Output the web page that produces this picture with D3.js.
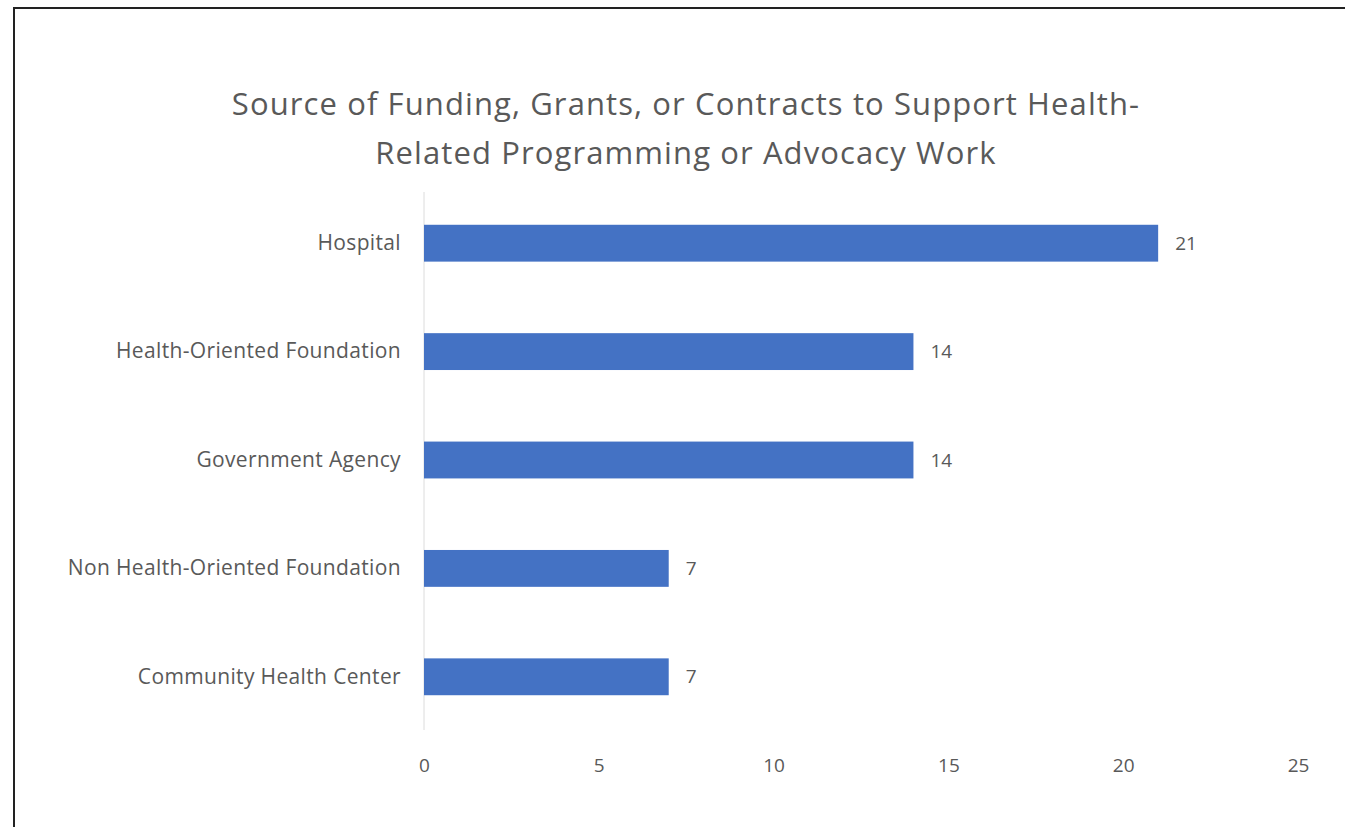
<!DOCTYPE html>
<html>
<head>
<meta charset="utf-8">
<script src="https://cdn.jsdelivr.net/npm/d3@7"></script>
<style>
  html, body { margin: 0; padding: 0; background: #fff; }
  svg { display: block; }
  text { font-family: "Open Sans", "Noto Sans", sans-serif; fill: #595959; }
</style>
</head>
<body>
<svg id="chart" width="1345" height="827"></svg>
<script>
// Funding sources and the number of organisations reporting each
const categories = [
  "Hospital",
  "Health-Oriented Foundation",
  "Government Agency",
  "Non Health-Oriented Foundation",
  "Community Health Center"
];
const counts = [21, 14, 14, 7, 7];
const xTicks = [0, 5, 10, 15, 20, 25];
const titleLines = [
  "Source of Funding, Grants, or Contracts to Support Health-",
  "Related Programming or Advocacy Work"
];

const svg = d3.select("#chart");

// Frame lines on the left and top edges
svg.append("line").attr("x1", 14).attr("x2", 14).attr("y1", 7).attr("y2", 827)
  .attr("stroke", "#222").attr("stroke-width", 2);
svg.append("line").attr("x1", 13).attr("x2", 1345).attr("y1", 8).attr("y2", 8)
  .attr("stroke", "#222").attr("stroke-width", 2);

const x = d3.scaleLinear().domain([0, 25]).range([424, 1298]);
const y = d3.scaleBand().domain(categories).range([189, 731])
  .paddingInner(0.66).paddingOuter(0.33);

// Title
svg.append("g").selectAll("text").data(titleLines).join("text")
  .attr("x", 686).attr("y", (d, i) => 115 + i * 49)
  .attr("text-anchor", "middle")
  .attr("font-size", 31)
  .attr("letter-spacing", 1.1)
  .text(d => d);

// Category axis line
svg.append("line").attr("x1", x(0)).attr("x2", x(0)).attr("y1", 192).attr("y2", 730)
  .attr("stroke", "#dcdcdc").attr("stroke-width", 1);

// Bars
svg.append("g").selectAll("rect").data(categories).join("rect")
  .attr("x", x(0)).attr("y", d => y(d))
  .attr("width", (d, i) => x(counts[i]) - x(0))
  .attr("height", y.bandwidth())
  .attr("fill", "#4472c4");

// Value labels
svg.append("g").selectAll("text").data(categories).join("text")
  .attr("x", (d, i) => x(counts[i]) + 17)
  .attr("y", d => y(d) + y.bandwidth() / 2)
  .attr("dy", "0.35em")
  .attr("font-size", 19)
  .text((d, i) => counts[i]);

// Category labels
const yAxis = d3.axisLeft(y).tickSize(0).tickPadding(23);
const gy = svg.append("g").attr("transform", `translate(${x(0)},0)`).call(yAxis);
gy.select(".domain").remove();
gy.selectAll("text").attr("font-size", 21).attr("letter-spacing", 0.35).attr("fill", "#595959")
  .style("font-family", "'Open Sans', 'Noto Sans', sans-serif");

// Value axis tick labels
const xAxis = d3.axisBottom(x).tickValues(xTicks).tickSize(0).tickPadding(0);
const gx = svg.append("g").attr("transform", "translate(0,758)").call(xAxis);
gx.select(".domain").remove();
gx.selectAll("text").attr("font-size", 19).attr("fill", "#595959")
  .style("font-family", "'Open Sans', 'Noto Sans', sans-serif");
</script>
</body>
</html>
